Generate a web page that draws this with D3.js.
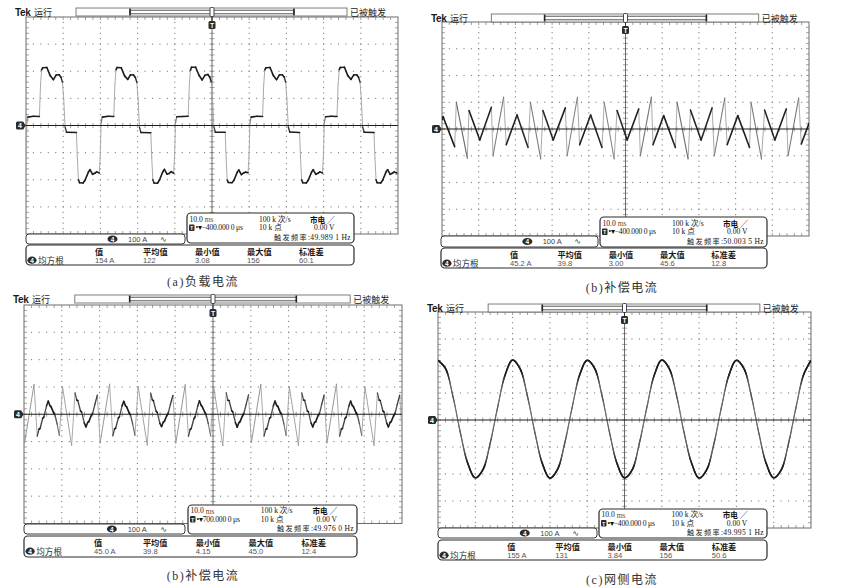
<!DOCTYPE html>
<html><head><meta charset="utf-8">
<script src="https://cdn.jsdelivr.net/npm/d3@7/dist/d3.min.js"></script>
<style>html,body{margin:0;padding:0;background:#fff;} svg{display:block;}</style>
</head><body>
<svg id="c" width="857" height="587"></svg>
<script>
// ================= DATA =================
const timeTicks = [0,10,20,30,40,50,60,70,80,90,100];          // ms (10 ms/div)
const ampTicks  = [-400,-300,-200,-100,0,100,200,300,400];     // A (100 A/div)
const measHeaders = ["值","平均值","最小值","最大值","标准差"];
const captions = ["(a)负载电流","(b)补偿电流","(b)补偿电流","(c)网侧电流"];
const measLoad  = ["154 A","122","3.08","156","60.1"];
const measComp1 = ["45.2 A","39.8","3.00","45.6","12.8"];
const measComp2 = ["45.0 A","39.8","4.15","45.0","12.4"];
const measGrid  = ["155 A","131","3.84","156","50.6"];
const trigFreqs = ["49.989 1 Hz","50.003 5 Hz","49.976 0 Hz","49.995 1 Hz"];
const trigPos   = ["−400.000 0 μs","−400.000 0 μs","700.000 0 μs","−400.000 0 μs"];

// load current [ms, A]
const loadCurrent = [
 [0,-130],[0.25,10],[0.5,31],[2.0,34],
 [3.6,33],[3.9,150],[4.2,205],[4.5,213],[5.6,214],[6.5,184],[7.36,169],[8.1,186],[8.9,187],[9.4,178],[9.8,160],[10.15,95],[10.5,-5],[10.9,-25],[13.55,-26],[13.8,-120],[14.1,-200],[14.4,-211],[15.35,-212],[15.9,-201],[16.8,-171],[17.2,-163],[17.9,-180],[18.5,-176],[19.0,-171],[19.7,-175],[19.95,-110],[20.2,10],[20.5,31],[22.1,34],
 [23.6,33],[23.9,151],[24.2,206],[24.5,214],[25.6,213],[26.5,183],[27.36,170],[28.1,187],[28.9,186],[29.4,177],[29.8,159],[30.15,94],[30.5,-6],[30.9,-26],[33.55,-27],[33.8,-119],[34.1,-199],[34.4,-212],[35.35,-213],[35.9,-200],[36.8,-170],[37.2,-162],[37.9,-179],[38.5,-177],[39.0,-170],[39.7,-176],[39.95,-108],[40.2,11],[40.5,32],[42.1,33],
 [43.6,34],[43.9,149],[44.2,204],[44.5,215],[45.6,215],[46.5,185],[47.36,168],[48.1,185],[48.9,188],[49.4,178],[49.8,161],[50.15,96],[50.5,-4],[50.9,-25],[53.55,-25],[53.8,-121],[54.1,-201],[54.4,-210],[55.35,-211],[55.9,-202],[56.8,-172],[57.2,-164],[57.9,-181],[58.5,-175],[59.0,-172],[59.7,-174],[59.95,-111],[60.2,9],[60.5,31],[62.1,34],
 [63.6,33],[63.9,150],[64.2,205],[64.5,213],[65.6,214],[66.5,184],[67.36,169],[68.1,186],[68.9,187],[69.4,179],[69.8,160],[70.15,95],[70.5,-5],[70.9,-24],[73.55,-26],[73.8,-120],[74.1,-200],[74.4,-211],[75.35,-212],[75.9,-201],[76.8,-171],[77.2,-163],[77.9,-180],[78.5,-176],[79.0,-171],[79.7,-175],[79.95,-110],[80.2,10],[80.5,32],[82.1,34],
 [83.6,33],[83.9,151],[84.2,206],[84.5,214],[85.6,215],[86.5,184],[87.36,170],[88.1,186],[88.9,187],[89.4,178],[89.8,160],[90.15,95],[90.5,-5],[90.9,-25],[93.55,-26],[93.8,-120],[94.1,-200],[94.4,-211],[95.35,-212],[95.9,-201],[96.8,-171],[97.2,-163],[97.9,-180],[98.5,-176],[99.0,-171],[99.7,-175],[99.95,-110],[100.2,10]
];

// compensation current, upper-right screen [ms, A]
const compCurrent1 = [
 [0,35],[0.3,46],[3.45,-66],[3.9,100],[6.9,-109],[7.36,69],[10.3,-41],[13.45,81],[13.9,-100],[16.8,119],[17.5,-59],
 [20.45,52],[23.45,-69],[24.1,100],[26.9,-112],[27.5,69],[30.3,-41],[33.6,79],[34.1,-100],[36.9,119],[37.5,-59],
 [40.5,52],[43.6,-69],[44.2,100],[46.9,-112],[47.7,69],[50.45,-41],[53.6,75],[54.05,-100],[57.05,119],[57.5,-59],
 [60.4,50],[63.6,-69],[64.05,100],[67.05,-112],[67.7,71],[70.6,-41],[73.6,79],[74.2,-100],[77.05,116],[77.7,-59],
 [80.6,50],[83.8,-69],[84.2,100],[87.05,-112],[87.9,71],[90.7,-41],[93.8,75],[94.3,-100],[97.2,116],[97.9,-56],[100,21]
];

// compensation current, lower-left screen [ms, A]
const compCurrent2 = [
 [0,-70],[0.15,-105],
 [2.65,109],[3.5,-80],[3.95,-55],[4.25,-52],[4.95,-15],[5.25,-10],[5.95,30],[6.4,48],[6.85,32],[7.15,28],[7.85,5],[8.15,0],[8.75,-35],[9.35,-78],[10.2,100],[12.6,-114],[13.5,78],[13.95,52],[14.25,50],[14.95,12],[15.25,8],[15.95,-32],[16.4,-46],[16.85,-30],[17.15,-27],[17.85,-3],[18.15,2],[18.75,36],[19.4,70],[20.15,-105],
 [22.65,110],[23.5,-79],[23.95,-54],[24.25,-51],[24.95,-14],[25.25,-9],[25.95,31],[26.4,47],[26.85,31],[27.15,27],[27.85,4],[28.15,-1],[28.75,-36],[29.35,-77],[30.2,101],[32.6,-113],[33.5,77],[33.95,53],[34.25,49],[34.95,11],[35.25,7],[35.95,-33],[36.4,-45],[36.85,-29],[37.15,-26],[37.85,-2],[38.15,3],[38.75,37],[39.4,69],[40.15,-106],
 [42.65,108],[43.5,-81],[43.95,-56],[44.25,-52],[44.95,-16],[45.25,-10],[45.95,29],[46.4,49],[46.85,33],[47.15,28],[47.85,6],[48.15,0],[48.75,-34],[49.35,-79],[50.2,99],[52.6,-115],[53.5,79],[53.95,51],[54.25,50],[54.95,13],[55.25,8],[55.95,-31],[56.4,-47],[56.85,-31],[57.15,-27],[57.85,-4],[58.15,2],[58.75,35],[59.4,71],[60.15,-104],
 [62.65,109],[63.5,-80],[63.95,-55],[64.25,-53],[64.95,-15],[65.25,-11],[65.95,30],[66.4,48],[66.85,32],[67.15,29],[67.85,5],[68.15,1],[68.75,-35],[69.35,-78],[70.2,100],[72.6,-114],[73.5,78],[73.95,52],[74.25,51],[74.95,12],[75.25,9],[75.95,-32],[76.4,-46],[76.85,-30],[77.15,-28],[77.85,-3],[78.15,1],[78.75,36],[79.4,70],[80.15,-105],
 [82.65,110],[83.5,-80],[83.95,-55],[84.25,-52],[84.95,-15],[85.25,-10],[85.95,30],[86.4,48],[86.85,32],[87.15,28],[87.85,5],[88.15,0],[88.75,-35],[89.35,-78],[90.2,100],[92.6,-114],[93.5,78],[93.95,52],[94.25,50],[94.95,12],[95.25,8],[95.95,-32],[96.4,-46],[96.85,-30],[97.15,-27],[97.85,-3],[98.15,2],[98.75,36],[99.4,70],[100.15,-105]
];

// grid-side current, sampled every 2 ms
const gridTime = [0,2,4,6,8,10,12,14,16,18,20,22,24,26,28,30,32,34,36,38,40,42,44,46,48,50,52,54,56,58,60,62,64,66,68,70,72,74,76,78,80,82,84,86,88,90,92,94,96,98,100];
const gridAmp  = [221,191,88,-47,-161,-214,-185,-85,48,167,
                  222,190,87,-48,-162,-215,-184,-84,49,168,
                  221,191,88,-47,-161,-214,-186,-85,47,167,
                  222,190,88,-48,-160,-215,-185,-86,48,166,
                  221,191,89,-47,-161,-214,-185,-85,48,167,
                  221];

// ================= LAYOUT =================
const panels = [
 {L:26, R:398, T:17, B:234, bar:[8,16],   info:[187,354,213,243], chan:[26,185,234,244], meas:[26,354,245,265], cap:[203,282],
  series: loadCurrent, smooth:false, m: measLoad, freq: trigFreqs[0], pos: trigPos[0], caption: captions[0]},
 {L:442,R:809, T:22, B:236, bar:[14,22],  info:[600,767,217,247], chan:[441,598,236,247], meas:[441,767,248,268], cap:[622,288],
  series: compCurrent1, smooth:false, m: measComp1, freq: trigFreqs[1], pos: trigPos[1], caption: captions[1]},
 {L:24, R:402, T:305,B:523.5,bar:[295,303],info:[188,357,505,534], chan:[24,185,524,534], meas:[24,357,536,557], cap:[203,576],
  series: compCurrent2, smooth:false, m: measComp2, freq: trigFreqs[2], pos: trigPos[2], caption: captions[2]},
 {L:438,R:811, T:312,B:528, bar:[304,312], info:[599,767,509,538], chan:[438,597,528,538], meas:[438,767,540,560], cap:[622,580],
  series: gridTime.map((t,i)=>[t,gridAmp[i]]), smooth:true, m: measGrid, freq: trigFreqs[3], pos: trigPos[3], caption: captions[3]}
];

const SANS = "'Liberation Sans', Arial, sans-serif";
const CJK = "'Noto Sans CJK SC', sans-serif";
const SERIF = "'Liberation Serif', 'Noto Sans CJK SC', serif";

const svg = d3.select("#c");
const defs = svg.append("defs");

function txt(g, x, y, s, o={}) {
  return g.append("text").attr("x", x).attr("y", y).text(s)
    .attr("dominant-baseline", "central")
    .attr("font-family", o.f || SANS).attr("font-size", o.s || 9)
    .attr("font-weight", o.w || 400).attr("fill", o.c || "#111")
    .attr("text-anchor", o.a || "start")
    .attr("letter-spacing", o.ls || 0);
}
function badge(g, x, y, w, h, label, rx) {
  g.append("rect").attr("x", x).attr("y", y).attr("width", w).attr("height", h)
    .attr("rx", rx).attr("fill", "#2b2b2b");
  txt(g, x + w/2, y + h/2 + 0.3, label, {s: h*0.85, w: 700, c: "#fff", a: "middle"});
}

function drawTrace(g, pts) {
  const segs = d3.pairs(pts).map(([p, q]) => {
    const dx = Math.abs(q[0]-p[0]), dy = Math.abs(q[1]-p[1]);
    const st = dy / Math.max(dx, 0.05);
    const f = Math.max(0, Math.min(1, (st - 2.6) / 4));
    return {p, q, f};
  }).sort((a, b) => b.f - a.f);
  const col = d3.interpolateRgb("#1c1c1c", "#a0a0a0");
  g.selectAll(null).data(segs).join("line")
    .attr("x1", d => d.p[0]).attr("y1", d => d.p[1])
    .attr("x2", d => d.q[0]).attr("y2", d => d.q[1])
    .attr("stroke", d => col(d.f))
    .attr("stroke-width", d => 1.6 - 0.7*d.f)
    .attr("stroke-linecap", "round");
}

panels.forEach((P, pi) => {
  const {L, R, T, B} = P;
  const W = R - L, H = B - T, s = W / 372;
  const x = d3.scaleLinear().domain([0, 100]).range([L, R]);
  const y = d3.scaleLinear().domain([-400, 400]).range([B, T]);
  const cx = x(50), cy = y(0);
  const g = svg.append("g");

  // ---- graticule ----
  const dots = [];
  timeTicks.forEach((tv, i) => {
    if (i === 0 || i === 10 || i === 5) return;
    for (let k = 1; k < 40; k++) dots.push([x(tv), T + k*H/40]);
  });
  ampTicks.forEach((av, j) => {
    if (j === 0 || j === 8 || j === 4) return;
    for (let k = 1; k < 50; k++) dots.push([L + k*W/50, y(av)]);
  });
  g.selectAll(null).data(dots).join("rect")
    .attr("x", d => d[0]-0.55).attr("y", d => d[1]-0.55)
    .attr("width", 1.1).attr("height", 1.1).attr("fill", "#7c7c7c");

  const ticks = [];
  for (let k = 1; k < 50; k++) {
    const xx = L + k*W/50;
    ticks.push([xx, cy-2.5, xx, cy+2.5]);
    ticks.push([xx, T, xx, T+3]);
    ticks.push([xx, B-3, xx, B]);
  }
  for (let k = 1; k < 40; k++) {
    const yy = T + k*H/40;
    ticks.push([cx-2.5, yy, cx+2.5, yy]);
    ticks.push([L, yy, L+3, yy]);
    ticks.push([R-3, yy, R, yy]);
  }
  g.selectAll(null).data(ticks).join("line")
    .attr("x1", d => d[0]).attr("y1", d => d[1]).attr("x2", d => d[2]).attr("y2", d => d[3])
    .attr("stroke", "#8a8a8a").attr("stroke-width", 0.8);

  g.append("line").attr("x1", cx).attr("x2", cx).attr("y1", T).attr("y2", B)
    .attr("stroke", "#5a5a5a").attr("stroke-width", 0.9);
  g.append("rect").attr("x", L).attr("y", T).attr("width", W).attr("height", H)
    .attr("fill", "none").attr("stroke", "#6c6c6c").attr("stroke-width", 1);

  // ---- trace ----
  const cid = "clip" + pi;
  defs.append("clipPath").attr("id", cid).append("rect")
    .attr("x", L).attr("y", T).attr("width", W).attr("height", H);
  const tg = g.append("g").attr("clip-path", `url(#${cid})`);
  let pts;
  if (P.smooth) {
    const line = d3.line().x(d => x(d[0])).y(d => y(d[1])).curve(d3.curveCatmullRom.alpha(0.5));
    const tmp = svg.append("path").attr("d", line(P.series)).attr("fill", "none");
    const node = tmp.node(), len = node.getTotalLength();
    pts = [];
    for (let l = 0; l <= len; l += 1) { const p = node.getPointAtLength(l); pts.push([p.x, p.y]); }
    tmp.remove();
  } else {
    pts = P.series.map(d => [x(d[0]), y(d[1])]);
  }
  drawTrace(tg, pts);

  // ground reference line
  g.append("line").attr("x1", L).attr("x2", R).attr("y1", cy).attr("y2", cy)
    .attr("stroke", "#1e1e1e").attr("stroke-width", 1.1);

  // ground marker
  g.append("rect").attr("x", L-10).attr("y", cy-4).attr("width", 8).attr("height", 8)
    .attr("rx", 1.5).attr("fill", "#2b2b2b");
  g.append("path").attr("d", `M${L-2.5},${cy-3}L${L},${cy}L${L-2.5},${cy+3}Z`).attr("fill", "#2b2b2b");
  txt(g, L-6, cy+0.3, "4", {s: 7, w: 700, c: "#fff", a: "middle"});

  // ---- top bar ----
  const [b0, b1] = P.bar, bm = (b0+b1)/2;
  txt(g, L-11, bm, "Tek", {s: 10, w: 700, c: "#1a1a1a", ls: -0.4});
  txt(g, L+8, bm, "运行", {f: CJK, s: 9, c: "#222"});
  const bx0 = L + 50*s, bx1 = L + 321*s, ix0 = L + 104*s, ix1 = L + 268*s;
  g.append("rect").attr("x", bx0).attr("y", b0).attr("width", bx1-bx0).attr("height", b1-b0)
    .attr("fill", "#fdfdfd").attr("stroke", "#707070").attr("stroke-width", 0.9);
  g.append("rect").attr("x", ix0).attr("y", b0+2.2).attr("width", ix1-ix0).attr("height", b1-b0-4.4)
    .attr("fill", "none").attr("stroke", "#444").attr("stroke-width", 0.9);
  [ix0, ix1].forEach(xx => g.append("line").attr("x1", xx).attr("x2", xx).attr("y1", b0+0.5).attr("y2", b1-0.5)
    .attr("stroke", "#222").attr("stroke-width", 1.6));
  txt(g, L + 324*s, bm + 0.5, "已被触发", {f: CJK, s: 9, c: "#222"});
  g.append("rect").attr("x", cx-2).attr("y", b0-0.5).attr("width", 4).attr("height", b1-b0+1)
    .attr("rx", 1.2).attr("fill", "#fff").attr("stroke", "#333").attr("stroke-width", 0.9);
  g.append("line").attr("x1", cx).attr("x2", cx).attr("y1", b1).attr("y2", T+4).attr("stroke", "#333");
  badge(g, cx-3.5, T+4, 7, 8, "T", 1.5);

  // ---- info box ----
  const [i0, i1, iy0, iy1] = P.info, ih = iy1 - iy0;
  g.append("rect").attr("x", i0).attr("y", iy0).attr("width", i1-i0).attr("height", ih)
    .attr("rx", 4).attr("fill", "#fff").attr("stroke", "#2a2a2a").attr("stroke-width", 1.2);
  const r1 = iy0 + 0.2*ih, r2 = iy0 + 0.49*ih, r3 = iy0 + 0.81*ih;
  const k = (i1 - i0) / 167;
  const fs = 7.6;
  const t1 = txt(g, i0+2.5, r1, "10.0 ", {f: SERIF, s: fs, c: "#111"});
  t1.append("tspan").text("ms").attr("fill", "#7a4a10");
  txt(g, i0+72*k, r1, "100 k 次/s", {f: SERIF, s: fs, c: "#111"});
  txt(g, i0+123*k, r1, "市电 ╱", {f: CJK, s: 7.6, w: 700, c: "#111"});
  badge(g, i0+2, r2-3.2, 5.5, 6.5, "T", 1);
  txt(g, i0+8.5, r2, "•▾" + P.pos, {f: SERIF, s: fs, c: "#111", ls: -0.2});
  txt(g, i0+72*k, r2, "10 k 点", {f: SERIF, s: fs, c: "#111"});
  txt(g, i0+127*k, r2, "0.00 V", {f: SERIF, s: fs, c: "#111"});
  const t3 = txt(g, i1-3, r3, "", {f: SERIF, s: fs, c: "#111", a: "end"});
  t3.append("tspan").text("触发频率").attr("font-family", CJK).attr("font-size", 7.2).attr("letter-spacing", 1.3).attr("fill", "#222");
  t3.append("tspan").text(":" + P.freq).attr("letter-spacing", 0.3);

  // ---- channel box ----
  const [c0, c1, cy0, cy1] = P.chan, cm = (cy0+cy1)/2;
  g.append("rect").attr("x", c0).attr("y", cy0).attr("width", c1-c0).attr("height", cy1-cy0)
    .attr("rx", 3).attr("fill", "#fff").attr("stroke", "#3a3a3a").attr("stroke-width", 1);
  g.append("ellipse").attr("cx", L + 86.5*s).attr("cy", cm).attr("rx", 5).attr("ry", 3.6).attr("fill", "#2b2b2b");
  txt(g, L + 86.5*s, cm+0.3, "4", {s: 6.5, w: 700, c: "#fff", a: "middle"});
  txt(g, L + 102*s, cm, "100 A", {s: 7.5, c: "#444"});
  txt(g, L + 134*s, cm, "∿", {f: "'DejaVu Sans', sans-serif", s: 8, c: "#333"});

  // ---- measurement box ----
  const [m0, m1, my0, my1] = P.meas;
  g.append("rect").attr("x", m0).attr("y", my0).attr("width", m1-m0).attr("height", my1-my0)
    .attr("rx", 4).attr("fill", "#fff").attr("stroke", "#2a2a2a").attr("stroke-width", 1.2);
  const hy = my0 + 6, vy = my0 + 15.2;
  const cols = [69, 117, 169, 221, 273].map(v => L + v*s);
  measHeaders.forEach((h, j) => txt(g, cols[j], hy, h, {f: CJK, s: 8.2, w: 700, c: "#1a1a1a"}));
  P.m.forEach((v, j) => txt(g, cols[j], vy, v, {s: 7.6, c: "#555"}));
  g.append("ellipse").attr("cx", m0 + 6*s).attr("cy", vy).attr("rx", 4.6).attr("ry", 3.6).attr("fill", "#2b2b2b");
  txt(g, m0 + 6*s, vy+0.3, "4", {s: 6.5, w: 700, c: "#fff", a: "middle"});
  txt(g, m0 + 12*s, vy, "均方根", {f: CJK, s: 8.6, c: "#333"});

  // ---- caption ----
  txt(svg, P.cap[0], P.cap[1], P.caption, {f: SERIF, s: 12, c: "#333", a: "middle", ls: 1.5});
});
</script>
</body></html>
